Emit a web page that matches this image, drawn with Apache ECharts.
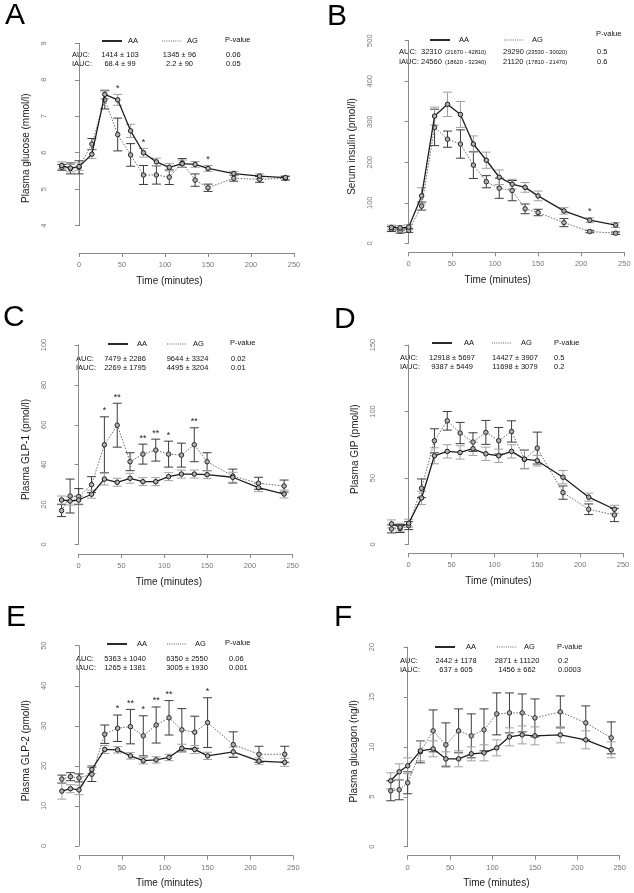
<!DOCTYPE html>
<html><head><meta charset="utf-8">
<script src="https://cdn.jsdelivr.net/npm/echarts/dist/echarts.min.js"></script>
<style>html,body{margin:0;padding:0;background:#fff}#c{width:634px;height:893px}</style>
</head><body><div id="c"></div>
<script>
// ---------------- DATA ----------------
const times = [-20, -10, 0, 15, 30, 45, 60, 75, 90, 105, 120, 135, 150, 180, 210, 240];
const timeTicks = [0, 50, 100, 150, 200, 250];

const glucoseAA    = [5.65, 5.58, 5.62, 5.96, 7.60, 7.45, 6.60, 6.00, 5.75, 5.60, 5.70, 5.68, 5.57, 5.43, 5.36, 5.32];
const glucoseAAerr = [0.10, 0.10, 0.10, 0.12, 0.12, 0.15, 0.18, 0.12, 0.10, 0.10, 0.10, 0.08, 0.08, 0.06, 0.06, 0.05];
const glucoseAG    = [5.60, 5.57, 5.60, 6.24, 7.45, 6.50, 5.94, 5.39, 5.39, 5.33, 5.72, 5.25, 5.04, 5.30, 5.27, 5.30];
const glucoseAGerr = [0.08, 0.15, 0.18, 0.15, 0.25, 0.45, 0.31, 0.26, 0.25, 0.20, 0.12, 0.17, 0.10, 0.08, 0.08, 0.05];
const glucoseTicks = [4, 5, 6, 7, 8, 9];
const glucoseStars = [[45, '*'], [75, '*'], [150, '*']];

const insulinAA    = [39, 38, 40, 117, 314, 343, 318, 245, 205, 163, 146, 138, 117, 80, 57, 45];
const insulinAAerr = [6, 6, 6, 20, 22, 30, 32, 20, 20, 18, 12, 12, 12, 8, 6, 6];
const insulinAG    = [35, 30, 32, 92, 286, 257, 245, 193, 152, 136, 130, 85, 76, 51, 29, 25];
const insulinAGerr = [6, 5, 5, 10, 45, 20, 35, 33, 15, 25, 25, 12, 8, 10, 3, 3];
const insulinTicks = [0, 100, 200, 300, 400, 500];
const insulinStars = [[210, '*']];

const glp1AA    = [22.3, 21.8, 22.3, 25.2, 32.8, 31.2, 33.2, 31.5, 31.5, 34.0, 35.3, 35.3, 35.0, 33.7, 28.5, 25.3];
const glp1AAerr = [2, 2, 2, 2, 3, 2, 2.5, 2, 2, 2, 2, 2, 2, 2.5, 2, 2];
const glp1AG    = [17.0, 24.3, 24.0, 30.0, 50.0, 59.8, 41.5, 45.3, 47.3, 45.3, 44.8, 50.0, 41.5, 34.3, 30.7, 29.3];
const glp1AGerr = [3, 8.5, 4, 4, 14, 11, 4.5, 5, 5.5, 6.5, 6, 8.5, 4.5, 3.5, 3, 3];
const glp1Ticks = [0, 20, 40, 60, 80, 100];
const glp1Stars = [[30, '*'], [45, '**'], [75, '**'], [90, '**'], [105, '*'], [135, '**']];

const gipAA    = [15.5, 13.0, 16.0, 35.0, 66.7, 70.0, 69.2, 72.0, 68.2, 66.7, 70.0, 64.2, 63.0, 50.6, 35.6, 26.5];
const gipAAerr = [3, 3, 3, 5, 6, 5, 5, 5, 5, 5, 5, 7, 4, 5, 3, 3];
const gipAG    = [11.7, 12.0, 14.2, 42.3, 78.0, 93.0, 83.8, 77.0, 84.3, 78.0, 85.0, 64.0, 72.5, 39.0, 26.5, 22.2];
const gipAGerr = [3, 3, 3, 7, 9, 7, 8, 7, 9, 10, 8, 7, 12, 5, 4, 5];
const gipTicks = [0, 50, 100, 150];
const gipStars = [];

const glp2AA    = [13.7, 14.3, 14.0, 19.1, 24.1, 24.0, 22.5, 21.3, 21.5, 22.1, 24.4, 24.1, 22.5, 23.5, 21.2, 20.9];
const glp2AAerr = [2, 1, 1.2, 1, 1, 0.8, 0.8, 0.8, 0.8, 0.8, 1, 1, 0.9, 1.2, 0.8, 1];
const glp2AG    = [16.7, 17.3, 17.0, 17.9, 27.9, 29.4, 29.8, 27.5, 30.2, 32.0, 29.0, 28.4, 30.8, 25.3, 22.9, 22.9];
const glp2AGerr = [1, 1, 1, 1.8, 2.3, 3.3, 4.3, 5, 4.5, 4.3, 5.3, 4, 6.2, 3.2, 2, 2];
const glp2Ticks = [0, 10, 20, 30, 40, 50];
const glp2Stars = [[45, '*'], [60, '**'], [75, '*'], [90, '**'], [105, '**'], [150, '*']];

const glucagonAA    = [6.6, 7.5, 8.1, 9.6, 9.8, 8.8, 8.8, 9.3, 9.4, 9.9, 11.0, 11.2, 11.1, 11.2, 10.7, 9.7];
const glucagonAAerr = [0.8, 0.8, 0.8, 1.0, 0.8, 0.7, 0.8, 0.7, 0.8, 0.8, 0.9, 0.9, 0.9, 0.8, 0.9, 0.8];
const glucagonAG    = [5.6, 5.7, 6.4, 9.5, 11.6, 10.2, 11.6, 11.1, 11.7, 13.3, 13.4, 13.4, 12.9, 13.5, 12.4, 10.9];
const glucagonAGerr = [1.0, 1.0, 1.1, 1.1, 2.1, 2.2, 2.2, 2.2, 2.1, 2.1, 2.0, 1.9, 1.9, 1.6, 1.7, 1.6];
const glucagonTicks = [0, 5, 10, 15, 20];
const glucagonStars = [];

const aucA = ['1414 ± 103', '1345 ± 96', '0.06'];
const iaucA = ['68.4 ± 99', '2.2 ± 90', '0.05'];
const aucB = ['32310', '29290', '0.5'];
const aucBci = ['(21670 - 42810)', '(23530 - 30020)'];
const iaucB = ['24560', '21120', '0.6'];
const iaucBci = ['(18620 - 32340)', '(17810 - 21470)'];
const aucC = ['7479 ± 2286', '9644 ± 3324', '0.02'];
const iaucC = ['2269 ± 1795', '4495 ± 3204', '0.01'];
const aucD = ['12918 ± 5697', '14427 ± 3907', '0.5'];
const iaucD = ['9387 ± 5449', '11698 ± 3079', '0.2'];
const aucE = ['5363 ± 1040', '6350 ± 2550', '0.06'];
const iaucE = ['1265 ± 1381', '3005 ± 1930', '0.001'];
const aucF = ['2442 ± 1178', '2871 ± 11120', '0.2'];
const iaucF = ['637 ± 605', '1456 ± 662', '0.0003'];

const yTitles = ['Plasma glucose (mmol/l)', 'Serum insulin (pmol/l)', 'Plasma GLP-1 (pmol/l)',
                 'Plasma GIP (pmol/l)', 'Plasma GLP-2 (pmol/l)', 'Plasma glucagon (ng/l)'];
const xTitle = 'Time (minutes)';

// ---------------- PANELS ----------------
const panels = [
  {id:'A', AA:glucoseAA, AAe:glucoseAAerr, AG:glucoseAG, AGe:glucoseAGerr, ticks:glucoseTicks, stars:glucoseStars, auc:aucA, iauc:iaucA},
  {id:'B', AA:insulinAA, AAe:insulinAAerr, AG:insulinAG, AGe:insulinAGerr, ticks:insulinTicks, stars:insulinStars, auc:aucB, iauc:iaucB, aucCi:aucBci, iaucCi:iaucBci},
  {id:'C', AA:glp1AA, AAe:glp1AAerr, AG:glp1AG, AGe:glp1AGerr, ticks:glp1Ticks, stars:glp1Stars, auc:aucC, iauc:iaucC},
  {id:'D', AA:gipAA, AAe:gipAAerr, AG:gipAG, AGe:gipAGerr, ticks:gipTicks, stars:gipStars, auc:aucD, iauc:iaucD},
  {id:'E', AA:glp2AA, AAe:glp2AAerr, AG:glp2AG, AGe:glp2AGerr, ticks:glp2Ticks, stars:glp2Stars, auc:aucE, iauc:iaucE},
  {id:'F', AA:glucagonAA, AAe:glucagonAAerr, AG:glucagonAG, AGe:glucagonAGerr, ticks:glucagonTicks, stars:glucagonStars, auc:aucF, iauc:iaucF}
];

// ---------------- LAYOUT (pixels) ----------------
const layout = {
  A:{yAxisX:53, x0:79, x250:294, yTop:43.3, yBot:225.7, xAxisY:253,
     letter:[5,16], legY:41, pvY:40, aucY:55, iaucY:64, labX:72, c1:120, c2:179.5, pX:226, align:'center',
     l1:[102,122], aaX:128, l2:[162,182], agX:187, pvX:225},
  B:{yAxisX:379, x0:408.7, x250:624.3, yTop:40.7, yBot:243.3, xAxisY:252.3,
     letter:[327,17], legY:40, pvY:34, aucY:52, iaucY:62, labX:399, c1:421, c2:503, pX:597, align:'left',
     ci1:445, ci2:526, l1:[430,450], aaX:459, l2:[504,524], agX:532, pvX:596},
  C:{yAxisX:53, x0:78.7, x250:292.7, yTop:345, yBot:544.5, xAxisY:554,
     letter:[3,317.5], legY:344, pvY:343, aucY:359, iaucY:368, labX:76, c1:125, c2:187.5, pX:231, align:'center',
     l1:[108,128], aaX:137, l2:[167,187], agX:193, pvX:230},
  D:{yAxisX:382, x0:408.7, x250:623, yTop:345, yBot:544.5, xAxisY:553.3,
     letter:[334,320], legY:343, pvY:343, aucY:358, iaucY:367, labX:400, c1:452, c2:515, pX:554, align:'center',
     l1:[432,452], aaX:464, l2:[492,512], agX:521, pvX:554},
  E:{yAxisX:53, x0:79, x250:293.3, yTop:645.7, yBot:846, xAxisY:855.7,
     letter:[6,617.5], legY:644, pvY:643, aucY:659, iaucY:668, labX:76, c1:125, c2:187, pX:229, align:'center',
     l1:[107,127], aaX:137, l2:[167,187], agX:195, pvX:225},
  F:{yAxisX:381, x0:407.7, x250:619.7, yTop:647, yBot:846.7, xAxisY:855.7,
     letter:[334,617.5], legY:647, pvY:647, aucY:661, iaucY:670, labX:400, c1:456, c2:517, pX:558, align:'center',
     l1:[435,455], aaX:466, l2:[497,517], agX:524, pvX:557}
};

const FONT = "'Liberation Sans', Arial, Helvetica, sans-serif";
const AXIS_COLOR = '#8a8a8a';
const LABEL_COLOR = '#777';
const AA_LINE = '#1e1e1e', AG_LINE = '#6a6a6a';
const AA_ERR = '#a0a0a0', AG_ERR = '#3c3c3c';

const grid = [], xAxis = [], yAxis = [], series = [], graphic = [];

function errSeries(gi, vals, errs, color) {
  return {
    type:'custom', xAxisIndex:gi, yAxisIndex:gi, z:2, silent:true,
    data: times.map((t, i) => [t, vals[i], errs[i]]),
    renderItem: (params, api) => {
      const t = api.value(0), v = api.value(1), e = api.value(2);
      const top = api.coord([t, v + e]), bot = api.coord([t, v - e]);
      const hw = 4.5;
      const st = {stroke:color, lineWidth:1};
      return {type:'group', children:[
        {type:'line', shape:{x1:top[0], y1:top[1], x2:bot[0], y2:bot[1]}, style:st},
        {type:'line', shape:{x1:top[0]-hw, y1:top[1], x2:top[0]+hw, y2:top[1]}, style:st},
        {type:'line', shape:{x1:bot[0]-hw, y1:bot[1], x2:bot[0]+hw, y2:bot[1]}, style:st}
      ]};
    }
  };
}

function txt(text, x, y, size, align, vAlign, fill, extra) {
  return Object.assign({type:'text', silent:true, style:{text:text, x:x, y:y, fontSize:size, fontFamily:FONT,
    fill:fill || '#111', align:align || 'left', verticalAlign:vAlign || 'middle'}}, extra || {});
}

panels.forEach((p, k) => {
  const L = layout[p.id];
  const s = (L.x250 - L.x0) / 250;
  const xmin = -(L.x0 - L.yAxisX) / s;
  const gi = grid.length;
  const tk = p.ticks;

  // data grid
  grid.push({left:L.yAxisX, top:L.yTop, width:L.x250 - L.yAxisX, height:L.yBot - L.yTop});
  xAxis.push({gridIndex:gi, type:'value', min:xmin, max:250, show:false});
  yAxis.push({gridIndex:gi, type:'value', min:tk[0], max:tk[tk.length-1], interval:tk[1]-tk[0],
    axisLine:{show:true, lineStyle:{color:AXIS_COLOR, width:1}},
    axisTick:{show:true, length:4, lineStyle:{color:AXIS_COLOR}},
    axisLabel:{rotate:90, fontSize:7.5, color:LABEL_COLOR, margin:5, fontFamily:FONT},
    splitLine:{show:false}});

  // x axis grid (axis drawn only from 0 to 250, offset below the plot)
  grid.push({left:L.x0, top:L.xAxisY - 10, width:L.x250 - L.x0, height:10});
  xAxis.push({gridIndex:gi+1, type:'value', min:timeTicks[0], max:timeTicks[timeTicks.length-1],
    interval:timeTicks[1]-timeTicks[0], position:'bottom',
    axisLine:{show:true, lineStyle:{color:AXIS_COLOR, width:1}},
    axisTick:{show:true, length:4, lineStyle:{color:AXIS_COLOR}},
    axisLabel:{fontSize:7.5, color:LABEL_COLOR, margin:8, fontFamily:FONT},
    splitLine:{show:false}});
  yAxis.push({gridIndex:gi+1, type:'value', show:false});

  // error bars
  series.push(errSeries(gi, p.AG, p.AGe, AG_ERR));
  series.push(errSeries(gi, p.AA, p.AAe, AA_ERR));

  // lines
  series.push({type:'line', xAxisIndex:gi, yAxisIndex:gi, z:3, silent:true,
    data:times.map((t, i) => [t, p.AG[i]]),
    symbol:'circle', symbolSize:4.5,
    itemStyle:{color:'#b0b0b0', borderColor:'#2a2a2a', borderWidth:1},
    lineStyle:{color:AG_LINE, width:1, type:[1.5, 1.5]}});
  series.push({type:'line', xAxisIndex:gi, yAxisIndex:gi, z:4, silent:true,
    data:times.map((t, i) => [t, p.AA[i]]),
    symbol:'circle', symbolSize:4.5,
    itemStyle:{color:'#b0b0b0', borderColor:'#1a1a1a', borderWidth:1},
    lineStyle:{color:AA_LINE, width:1.3}});

  // significance stars
  if (p.stars.length) {
    series.push({type:'custom', xAxisIndex:gi, yAxisIndex:gi, z:5, silent:true,
      data:p.stars.map(st => [st[0], 0]),
      renderItem:(params, api) => {
        const st = p.stars[params.dataIndex];
        const i = times.indexOf(st[0]);
        const top = Math.max(p.AA[i] + p.AAe[i], p.AG[i] + p.AGe[i]);
        const pt = api.coord([st[0], top]);
        return {type:'text', x:pt[0], y:pt[1] - 1.5,
          style:{text:st[1], fill:'#222', fontSize:9, fontFamily:FONT, align:'center', verticalAlign:'bottom'}};
      }});
  }

  // panel letter
  graphic.push(txt(p.id, L.letter[0], L.letter[1], 30, 'left', 'middle', '#000'));
  // axis titles
  graphic.push(txt(xTitle, (L.yAxisX + L.x250) / 2 - 4, L.xAxisY + 28, 10, 'center', 'middle', '#1a1a1a'));
  graphic.push(txt(yTitles[k], 0, 0, 10, 'center', 'middle', '#1a1a1a',
    {x:L.yAxisX - 27, y:(L.yTop + L.xAxisY) / 2, rotation:Math.PI / 2}));
  // legend
  graphic.push({type:'line', silent:true, shape:{x1:L.l1[0], y1:L.legY, x2:L.l1[1], y2:L.legY},
    style:{stroke:'#111', lineWidth:1.8}});
  graphic.push({type:'line', silent:true, shape:{x1:L.l2[0], y1:L.legY, x2:L.l2[1], y2:L.legY},
    style:{stroke:'#666', lineWidth:1, lineDash:[1, 1.2]}});
  graphic.push(txt('AA', L.aaX, L.legY, 7.5));
  graphic.push(txt('AG', L.agX, L.legY, 7.5));
  graphic.push(txt('P-value', L.pvX, L.pvY, 7.5));
  // AUC table
  graphic.push(txt('AUC:', L.labX, L.aucY, 7.5));
  graphic.push(txt('IAUC:', L.labX, L.iaucY, 7.5));
  graphic.push(txt(p.auc[0], L.c1, L.aucY, 7.5, L.align));
  graphic.push(txt(p.auc[1], L.c2, L.aucY, 7.5, L.align));
  graphic.push(txt(p.auc[2], L.pX, L.aucY, 7.5));
  graphic.push(txt(p.iauc[0], L.c1, L.iaucY, 7.5, L.align));
  graphic.push(txt(p.iauc[1], L.c2, L.iaucY, 7.5, L.align));
  graphic.push(txt(p.iauc[2], L.pX, L.iaucY, 7.5));
  if (p.aucCi) {
    graphic.push(txt(p.aucCi[0], L.ci1, L.aucY + 0.5, 5.8));
    graphic.push(txt(p.aucCi[1], L.ci2, L.aucY + 0.5, 5.8));
    graphic.push(txt(p.iaucCi[0], L.ci1, L.iaucY + 0.5, 5.8));
    graphic.push(txt(p.iaucCi[1], L.ci2, L.iaucY + 0.5, 5.8));
  }
});

const chart = echarts.init(document.getElementById('c'), null, {renderer:'canvas'});
chart.setOption({
  animation:false,
  backgroundColor:'#fff',
  textStyle:{fontFamily:FONT},
  grid:grid, xAxis:xAxis, yAxis:yAxis, series:series, graphic:graphic
});
</script>
</body></html>
